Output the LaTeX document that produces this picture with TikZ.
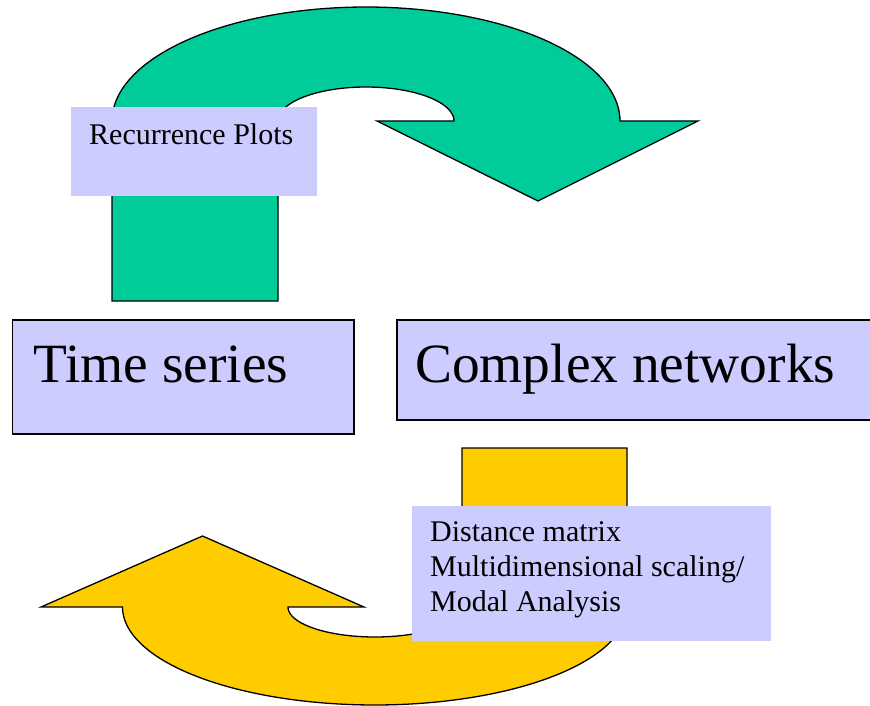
\documentclass[tikz,border=0pt]{standalone}
\usepackage{fontspec}
\setmainfont{Liberation Serif}
\definecolor{arrowgreen}{HTML}{00CC99}
\definecolor{arrowyellow}{HTML}{FFCC00}
\definecolor{lavender}{HTML}{CCCCFF}
\begin{document}
\begin{tikzpicture}[x=1pt,y=-1pt,
  arrowshape/.style={draw=black,line width=1.3pt,line join=miter},
  bigbox/.style={draw=black,line width=1.2pt,fill=lavender},
  labelbox/.style={fill=lavender},
  bigtext/.style={font=\fontsize{55.4}{66}\selectfont,inner sep=0pt,anchor=base west},
  smalltext/.style={font=\fontsize{30}{35}\selectfont,inner sep=0pt,anchor=base west}]
\useasboundingbox (0,0) rectangle (870,706);
\clip (0,0) rectangle (870,706);
% green U-turn arrow
\draw[arrowshape,fill=arrowgreen]
  (112,301) -- (112,121)
  -- plot[domain=180:360,samples=90] ({366+254*cos(\x)},{121+114*sin(\x)})
  -- (698,121) -- (538,201) -- (377,121) -- (454,121)
  -- plot[domain=360:180,samples=60] ({366+88*cos(\x)},{121+34*sin(\x)})
  -- (278,301) -- cycle;
\fill[labelbox] (71,107.5) rectangle (317,196);
\node[smalltext] (rp) at (89,144.3) {Recurrence Plots};
% main boxes
\draw[bigbox] (12.5,320) rectangle (354,434);
\node[bigtext] (ts) at (33,382) {Time series};
\draw[bigbox] (397,320) rectangle (874,420);
\node[bigtext] (cn) at (415,382) {Complex networks};
% yellow U-turn arrow
\draw[arrowshape,fill=arrowyellow]
  (462,448) -- (627,448) -- (627,607)
  -- plot[domain=0:180,samples=90] ({374.75+252.25*cos(\x)},{607+98*sin(\x)})
  -- (41,607) -- (202.5,536) -- (364,607) -- (288,607)
  -- plot[domain=180:0,samples=60] ({375+87*cos(\x)},{607+30*sin(\x)})
  -- cycle;
\fill[labelbox] (411.5,505.7) rectangle (771,641);
\node[smalltext] (dm) at (430,541.7) {Distance matrix};
\node[smalltext] (md) at (430,576.7) {Multidimensional scaling/};
\node[smalltext] (ma) at (430,611.7) {Modal Analysis};
\end{tikzpicture}
\end{document}
